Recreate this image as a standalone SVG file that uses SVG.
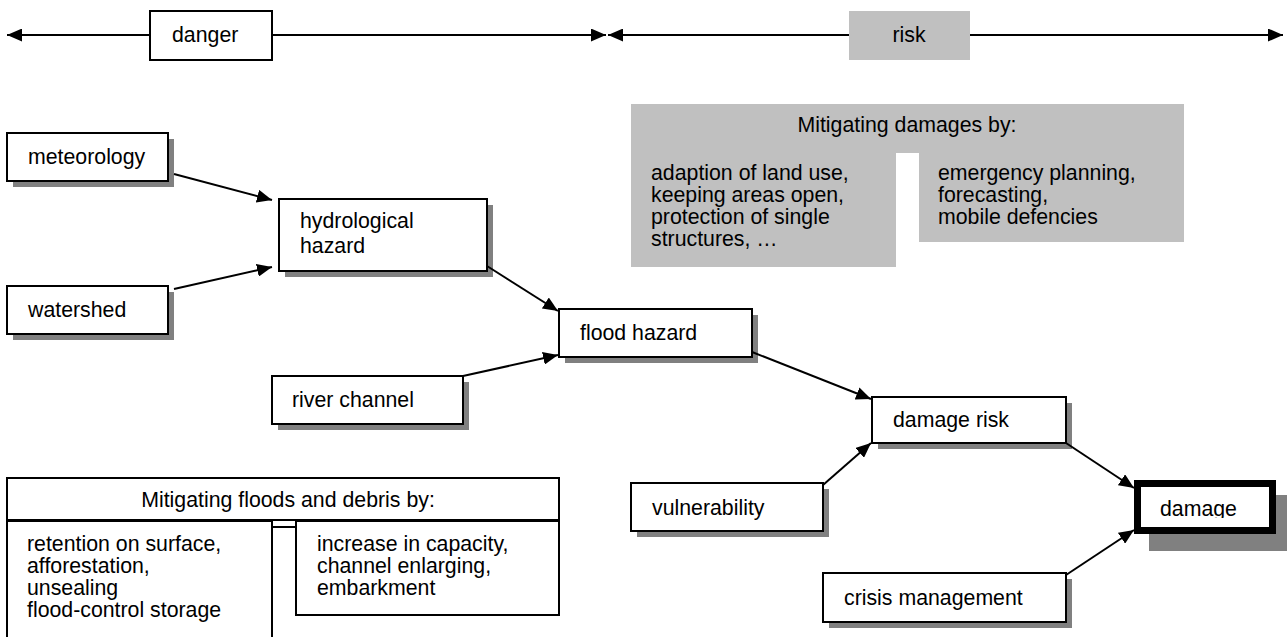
<svg xmlns="http://www.w3.org/2000/svg" width="1287" height="637" viewBox="0 0 1287 637">
<defs>
<style>
text{font-family:"Liberation Sans",Arial,sans-serif;font-size:21.3px;fill:#000}
.box{fill:#fff;stroke:#000;stroke-width:2}
.sh{fill:#808080}
.gray{fill:#c0c0c0}
.c line{stroke:#000;stroke-width:2;marker-end:url(#ah)}
.dbl{stroke:#000;stroke-width:2;marker-start:url(#ah);marker-end:url(#ah)}
</style>
<marker id="ah" markerUnits="userSpaceOnUse" viewBox="0 0 15 13" refX="15" refY="6.5" markerWidth="15" markerHeight="13" orient="auto-start-reverse">
<path d="M0,0 L15,6.5 L0,13 z" fill="#000"/>
</marker>
<clipPath id="dclip"><rect x="1141" y="487" width="128" height="31"/></clipPath>
</defs>
<g id="scale">
<line class="dbl" x1="7" y1="35" x2="606" y2="35"/>
<line class="dbl" x1="608" y1="35" x2="1283" y2="35"/>
</g>
<g id="danger"><rect class="box" x="150" y="11" width="122" height="49"/><text x="172" y="42">danger</text></g>
<g id="risk"><rect class="gray" x="849" y="11" width="121" height="49"/><text x="909" y="42" text-anchor="middle">risk</text></g>
<g id="mitigating-damages">
<path class="gray" d="M631,104 H1184 V242 H919 V153 H896 V267 H631 Z"/>
<text x="907" y="132" text-anchor="middle">Mitigating damages by:</text>
<text x="651" y="180">adaption of land use,</text>
<text x="651" y="202">keeping areas open,</text>
<text x="651" y="224">protection of single</text>
<text x="651" y="246">structures, …</text>
<text x="938" y="180">emergency planning,</text>
<text x="938" y="202">forecasting,</text>
<text x="938" y="224">mobile defencies</text>
</g>
<g id="meteorology"><rect class="sh" x="13" y="139" width="161" height="48"/><rect class="box" x="7" y="133" width="161" height="48"/><text x="28" y="164">meteorology</text></g>
<g id="watershed"><rect class="sh" x="13" y="292" width="161" height="48"/><rect class="box" x="7" y="286" width="161" height="48"/><text x="28" y="317">watershed</text></g>
<g id="hydrological-hazard"><rect class="sh" x="285" y="205" width="208" height="72"/><rect class="box" x="279" y="199" width="208" height="72"/><text x="300" y="228">hydrological</text><text x="300" y="253">hazard</text></g>
<g id="flood-hazard"><rect class="sh" x="565" y="315" width="193" height="48"/><rect class="box" x="559" y="309" width="193" height="48"/><text x="580" y="340">flood hazard</text></g>
<g id="river-channel"><rect class="sh" x="278" y="382" width="191" height="48"/><rect class="box" x="272" y="376" width="191" height="48"/><text x="292" y="407">river channel</text></g>
<g id="damage-risk"><rect class="sh" x="878" y="403" width="194" height="46"/><rect class="box" x="872" y="397" width="194" height="46"/><text x="893" y="427">damage risk</text></g>
<g id="vulnerability"><rect class="sh" x="637" y="489" width="192" height="48"/><rect class="box" x="631" y="483" width="192" height="48"/><text x="652" y="515">vulnerability</text></g>
<g id="crisis-management"><rect class="sh" x="829" y="579" width="243" height="49"/><rect class="box" x="823" y="573" width="243" height="49"/><text x="844" y="605">crisis management</text></g>
<g id="damage"><rect class="sh" x="1149" y="495" width="140" height="56"/><rect x="1137.5" y="483.5" width="135" height="47" fill="#fff"/><text x="1160" y="516" clip-path="url(#dclip)">damage</text><rect x="1137.5" y="483.5" width="135" height="47" fill="none" stroke="#000" stroke-width="7"/></g>
<g id="mitigating-floods">
<rect class="box" x="7" y="478" width="552" height="42"/>
<text x="288" y="507" text-anchor="middle">Mitigating floods and debris by:</text>
<rect class="box" x="7" y="521" width="265" height="130"/>
<rect class="box" x="296" y="521" width="263" height="94"/>
<line x1="272" y1="527" x2="296" y2="527" stroke="#000" stroke-width="2"/>
<text x="27" y="551">retention on surface,</text>
<text x="27" y="573">afforestation,</text>
<text x="27" y="595">unsealing</text>
<text x="27" y="617">flood-control storage</text>
<text x="317" y="551">increase in capacity,</text>
<text x="317" y="573">channel enlarging,</text>
<text x="317" y="595">embarkment</text>
</g>
<g id="connectors" class="c">
<line x1="174" y1="174" x2="272" y2="200"/>
<line x1="174" y1="289" x2="272" y2="267"/>
<line x1="487" y1="266" x2="558" y2="311"/>
<line x1="463" y1="376" x2="558" y2="355"/>
<line x1="752" y1="352" x2="871" y2="399"/>
<line x1="823" y1="485" x2="871" y2="443"/>
<line x1="1066" y1="443" x2="1134" y2="488"/>
<line x1="1066" y1="575" x2="1134" y2="530"/>
</g>
</svg>
